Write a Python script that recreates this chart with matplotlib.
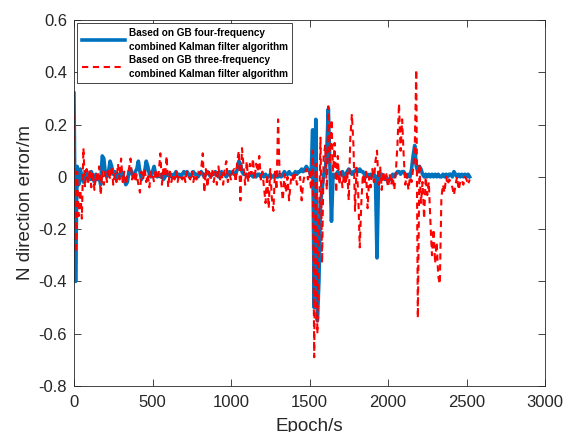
import numpy as np
import matplotlib.pyplot as plt
from matplotlib.ticker import FuncFormatter

plt.rcParams['font.family'] = ['Liberation Sans', 'DejaVu Sans']

# epochs sampled every 10 s
epoch = list(range(0, 2530, 10))

# N direction error (m), GB four-frequency combined Kalman filter
err_four = [
    0.32, -0.40, 0.04, -0.03, 0.03, 0.00, -0.02, 0.01, 0.02, -0.01,
    -0.01, 0.02, 0.00, -0.02, 0.01, -0.01, 0.00, -0.03, 0.08, 0.07,
    0.01, 0.00, 0.02, 0.06, 0.04, 0.01, 0.02, -0.01, 0.01, 0.00,
    0.02, 0.01, -0.01, -0.03, -0.02, 0.02, 0.03, 0.01, 0.00, 0.02,
    0.03, 0.06, 0.02, -0.01, 0.01, 0.02, 0.06, 0.04, 0.01, 0.00,
    0.02, 0.04, 0.01, 0.00, 0.01, 0.00, 0.01, -0.01, 0.00, 0.01,
    0.01, 0.00, 0.01, 0.00, 0.01, 0.02, 0.00, 0.01, 0.00, 0.01,
    0.02, 0.01, 0.02, 0.01, 0.00, 0.01, 0.02, 0.01, 0.01, 0.00,
    0.01, 0.02, 0.01, 0.00, 0.01, 0.02, 0.01, 0.00, 0.01, 0.01,
    0.02, 0.01, 0.00, 0.01, 0.02, 0.01, 0.01, 0.00, 0.01, 0.02,
    0.01, 0.02, 0.01, 0.01, 0.03, 0.06, 0.05, 0.02, 0.01, 0.01,
    0.01, 0.00, 0.01, 0.01, 0.00, 0.01, 0.00, 0.01, 0.01, 0.00,
    0.01, 0.00, 0.01, 0.00, 0.00, 0.01, 0.00, 0.00, 0.01, 0.00,
    0.00, 0.01, 0.00, 0.01, 0.02, 0.01, 0.01, 0.02, 0.01, 0.01,
    0.01, 0.02, 0.01, 0.02, 0.02, 0.03, 0.02, 0.03, 0.04, 0.03,
    0.02, 0.00, 0.18, -0.50, 0.22, -0.55, -0.40, -0.10, -0.05, 0.01,
    0.02, 0.10, 0.26, 0.04, -0.17, 0.01, 0.00, 0.01, 0.02, 0.01,
    0.01, 0.02, 0.00, 0.01, 0.02, 0.03, 0.02, 0.01, 0.02, 0.02,
    0.03, 0.02, 0.03, 0.02, 0.02, 0.01, 0.00, 0.01, 0.00, 0.01,
    0.00, 0.01, 0.00, -0.31, 0.01, 0.00, 0.01, 0.00, -0.01, 0.00,
    -0.02, -0.01, 0.00, 0.01, 0.00, 0.01, 0.02, 0.02, 0.01, 0.02,
    0.02, 0.01, 0.00, 0.01, 0.00, 0.03, 0.08, 0.12, 0.04, 0.02,
    0.04, 0.03, 0.01, 0.00, 0.01, 0.00, 0.01, 0.00, 0.01, 0.00,
    0.01, 0.00, 0.01, 0.00, 0.00, 0.01, 0.00, 0.01, 0.00, 0.01,
    0.01, 0.00, 0.02, 0.01, 0.00, 0.01, 0.00, 0.01, 0.00, 0.01,
    0.00, 0.01, 0.00,
]

# N direction error (m), GB three-frequency combined Kalman filter
err_three = [
    0.24, -0.29, 0.02, -0.15, -0.05, -0.16, 0.11, -0.04, 0.03, -0.02,
    0.03, -0.04, 0.02, -0.05, 0.01, -0.02, 0.04, -0.07, 0.02, -0.03,
    0.02, -0.02, 0.03, -0.01, 0.04, -0.03, 0.01, -0.02, 0.05, -0.01,
    0.07, -0.02, 0.02, -0.03, 0.01, 0.03, 0.07, -0.01, 0.02, -0.02,
    0.01, -0.03, -0.06, 0.02, -0.01, 0.03, -0.02, 0.01, -0.04, 0.02,
    0.01, -0.02, 0.03, -0.01, 0.02, 0.09, -0.03, 0.04, 0.00, 0.08,
    -0.04, 0.02, -0.02, 0.01, -0.01, 0.02, -0.02, 0.01, 0.00, -0.01,
    0.01, -0.02, 0.02, 0.00, -0.01, 0.02, -0.02, 0.01, -0.01, 0.02,
    0.01, 0.03, 0.09, -0.06, 0.03, -0.04, 0.02, -0.01, 0.03, -0.02,
    0.02, -0.03, 0.04, -0.01, 0.02, -0.03, 0.03, 0.06, -0.02, 0.01,
    -0.01, 0.02, 0.03, -0.02, 0.06, 0.10, -0.09, 0.11, 0.04, -0.03,
    0.06, -0.02, 0.05, 0.01, 0.07, -0.01, 0.05, 0.02, 0.08, -0.01,
    0.02, -0.04, -0.10, 0.01, -0.12, 0.03, -0.08, -0.13, 0.02, -0.05,
    0.22, 0.00, -0.03, -0.09, 0.01, -0.06, 0.00, -0.09, -0.02, 0.01,
    -0.02, 0.01, -0.03, -0.02, 0.00, -0.09, -0.02, 0.01, 0.03, -0.01,
    0.02, -0.05, 0.10, -0.69, 0.05, -0.60, -0.20, 0.15, -0.33, 0.08,
    0.12, -0.05, 0.27, 0.05, 0.22, 0.02, 0.13, -0.06, 0.08, -0.03,
    0.02, -0.04, 0.01, -0.03, 0.02, -0.09, 0.15, 0.24, 0.12, -0.13,
    0.04, -0.06, -0.27, -0.10, 0.01, -0.03, 0.02, -0.12, 0.00, -0.04,
    0.03, -0.02, 0.06, 0.10, -0.03, 0.04, -0.05, 0.02, -0.02, 0.01,
    -0.04, 0.01, -0.03, 0.00, -0.05, 0.02, 0.12, 0.28, 0.10, 0.22,
    0.08, -0.03, 0.01, -0.05, 0.00, -0.02, 0.03, 0.10, 0.41, -0.54,
    0.05, -0.10, -0.02, -0.16, 0.00, -0.07, -0.02, -0.17, -0.30, -0.20,
    -0.33, -0.25, -0.38, -0.41, -0.08, -0.03, -0.06, 0.00, -0.03, -0.01,
    -0.02, -0.04, -0.07, -0.03, 0.00, -0.05, -0.02, -0.01, -0.03, 0.00,
    -0.01, -0.03, -0.01,
]

labels = ['Based on GB four-frequency\ncombined Kalman filter algorithm',
          'Based on GB three-frequency\ncombined Kalman filter algorithm']

fig = plt.figure(figsize=(5.74, 4.32), dpi=100)
ax = fig.add_axes([74/574, 46/432, 471/574, 366/432])

ax.plot(epoch, err_four, color='#0072BD', linewidth=2.6, label=labels[0])
ax.plot(epoch, err_three, color='red', linewidth=1.5, linestyle='--',
        dashes=(3.0, 2.2), label=labels[1])

ax.set_xlim(0, 3000)
ax.set_ylim(-0.8, 0.6)
ax.set_xticks(np.arange(0, 3001, 500))
ax.set_yticks(np.arange(-0.8, 0.61, 0.2))
ax.yaxis.set_major_formatter(FuncFormatter(lambda v, p: '0' if abs(v) < 1e-9 else ('%g' % round(v, 1))))

dark = '#262626'
ax.tick_params(direction='in', top=True, right=True, length=5, width=0.6,
               colors=dark, labelsize=12)
ax.tick_params(axis='x', pad=6.5)
ax.tick_params(axis='y', pad=5)
for s in ax.spines.values():
    s.set_color(dark)
    s.set_linewidth(0.6)

ax.set_xlabel('Epoch/s', fontsize=13.5, color=dark, labelpad=6)
ax.set_ylabel('N direction error/m', fontsize=13.5, color=dark, labelpad=3)

leg = ax.legend(loc='upper left', prop={'weight': 'bold', 'size': 7.2},
                fancybox=False, framealpha=1, edgecolor=dark, borderaxespad=0.33,
                borderpad=0.45, handlelength=4.3, handletextpad=0.4, labelspacing=0.3)
leg.get_frame().set_linewidth(0.6)
for t in leg.get_texts():
    t.set_linespacing(1.5)

plt.savefig('out.png', dpi=100)
